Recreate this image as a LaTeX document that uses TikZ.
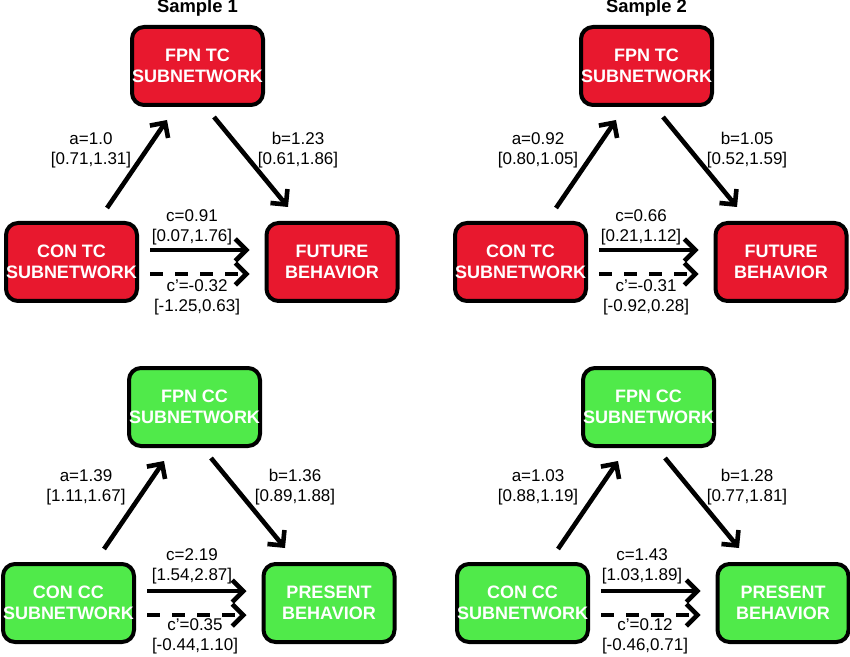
\documentclass[tikz,border=0pt]{standalone}
\usepackage{fontspec}
\setmainfont{Liberation Sans}
\usetikzlibrary{arrows.meta}
\definecolor{tcred}{RGB}{232,24,46}
\definecolor{ccgreen}{RGB}{80,234,74}

\tikzset{
	subnet/.style={draw=black, line width=2pt, rounded corners=6pt, text=white, inner sep=0pt,
		minimum width=65.5pt, minimum height=39pt, align=center, font=\fontsize{9}{10.5}\selectfont\bfseries},
	coef/.style={align=center, inner sep=0pt, font=\fontsize{8.5}{10}\selectfont},
	link/.style={-{Straight Barb[length=5.5pt,width=11pt]}, line width=2.3pt},
	dlink/.style={link, dash pattern=on 6.5pt off 6pt}
}

\begin{document}
\begin{tikzpicture}[x=0.5pt, y=-0.5pt]
\useasboundingbox (0,0) rectangle (850,657);

% Sample 1, TC
\node (S1) [font=\fontsize{9.2}{10}\selectfont\bfseries] at (197.5,8) {Sample 1};
\node (FPN1) [subnet, fill=tcred] at (197.5,66) {FPN TC\\SUBNETWORK};
\node (CON1) [subnet, fill=tcred] at (71.5,262) {CON TC\\SUBNETWORK};
\node (BEH1) [subnet, fill=tcred] at (332,262) {FUTURE\\BEHAVIOR};
\node (a1) [coef] at (91,150) {a=1.0\\{}[0.71,1.31]};
\node (b1) [coef] at (298,150) {b=1.23\\{}[0.61,1.86]};
\node (c1) [coef] at (192,227) {c=0.91\\{}[0.07,1.76]};
\node (d1) [coef] at (197,297) {c'=-0.32\\{}[-1.25,0.63]};
\draw [link] ([xshift=17.75pt,yshift=6.5pt]CON1.north) -- ([xshift=-15.25pt,yshift=-6.5pt]FPN1.south);
\draw [link] ([xshift=8.25pt,yshift=-5pt]FPN1.south) -- ([xshift=-22pt,yshift=7pt]BEH1.north);
\draw [link] ([xshift=5.5pt,yshift=6pt]CON1.east) -- ([xshift=-7.5pt,yshift=6pt]BEH1.west);
\draw [dlink] ([xshift=5.5pt,yshift=-6pt]CON1.east) -- ([xshift=-7.5pt,yshift=-6pt]BEH1.west);

% Sample 2, TC
\begin{scope}[shift={(449,0)}]
\node (S2) [font=\fontsize{9.2}{10}\selectfont\bfseries] at (197.5,8) {Sample 2};
\node (FPN2) [subnet, fill=tcred] at (197.5,66) {FPN TC\\SUBNETWORK};
\node (CON2) [subnet, fill=tcred] at (71.5,262) {CON TC\\SUBNETWORK};
\node (BEH2) [subnet, fill=tcred] at (332,262) {FUTURE\\BEHAVIOR};
\node (a2) [coef] at (89,150) {a=0.92\\{}[0.80,1.05]};
\node (b2) [coef] at (298,150) {b=1.05\\{}[0.52,1.59]};
\node (c2) [coef] at (192,227) {c=0.66\\{}[0.21,1.12]};
\node (d2) [coef] at (197,297) {c'=-0.31\\{}[-0.92,0.28]};
\draw [link] ([xshift=17.75pt,yshift=6.5pt]CON2.north) -- ([xshift=-15.25pt,yshift=-6.5pt]FPN2.south);
\draw [link] ([xshift=8.25pt,yshift=-5pt]FPN2.south) -- ([xshift=-22pt,yshift=7pt]BEH2.north);
\draw [link] ([xshift=5.5pt,yshift=6pt]CON2.east) -- ([xshift=-7.5pt,yshift=6pt]BEH2.west);
\draw [dlink] ([xshift=5.5pt,yshift=-6pt]CON2.east) -- ([xshift=-7.5pt,yshift=-6pt]BEH2.west);
\end{scope}

% Sample 1, CC
\begin{scope}[shift={(-3,341)}]
\node (FPN3) [subnet, fill=ccgreen] at (197.5,66) {FPN CC\\SUBNETWORK};
\node (CON3) [subnet, fill=ccgreen] at (71.5,262) {CON CC\\SUBNETWORK};
\node (BEH3) [subnet, fill=ccgreen] at (332,262) {PRESENT\\BEHAVIOR};
\node (a3) [coef] at (89,146) {a=1.39\\{}[1.11,1.67]};
\node (b3) [coef] at (298,146) {b=1.36\\{}[0.89,1.88]};
\node (c3) [coef] at (195,225) {c=2.19\\{}[1.54,2.87]};
\node (d3) [coef] at (198,295) {c'=0.35\\{}[-0.44,1.10]};
\draw [link] ([xshift=17.75pt,yshift=6.5pt]CON3.north) -- ([xshift=-15.25pt,yshift=-6.5pt]FPN3.south);
\draw [link] ([xshift=8.25pt,yshift=-5pt]FPN3.south) -- ([xshift=-22pt,yshift=7pt]BEH3.north);
\draw [link] ([xshift=5.5pt,yshift=6pt]CON3.east) -- ([xshift=-7.5pt,yshift=6pt]BEH3.west);
\draw [dlink] ([xshift=5.5pt,yshift=-6pt]CON3.east) -- ([xshift=-7.5pt,yshift=-6pt]BEH3.west);
\end{scope}

% Sample 2, CC
\begin{scope}[shift={(451,341)}]
\node (FPN4) [subnet, fill=ccgreen] at (197.5,66) {FPN CC\\SUBNETWORK};
\node (CON4) [subnet, fill=ccgreen] at (71.5,262) {CON CC\\SUBNETWORK};
\node (BEH4) [subnet, fill=ccgreen] at (332,262) {PRESENT\\BEHAVIOR};
\node (a4) [coef] at (87,146) {a=1.03\\{}[0.88,1.19]};
\node (b4) [coef] at (296,146) {b=1.28\\{}[0.77,1.81]};
\node (c4) [coef] at (191,225) {c=1.43\\{}[1.03,1.89]};
\node (d4) [coef] at (194,295) {c'=0.12\\{}[-0.46,0.71]};
\draw [link] ([xshift=17.75pt,yshift=6.5pt]CON4.north) -- ([xshift=-15.25pt,yshift=-6.5pt]FPN4.south);
\draw [link] ([xshift=8.25pt,yshift=-5pt]FPN4.south) -- ([xshift=-22pt,yshift=7pt]BEH4.north);
\draw [link] ([xshift=5.5pt,yshift=6pt]CON4.east) -- ([xshift=-7.5pt,yshift=6pt]BEH4.west);
\draw [dlink] ([xshift=5.5pt,yshift=-6pt]CON4.east) -- ([xshift=-7.5pt,yshift=-6pt]BEH4.west);
\end{scope}

\end{tikzpicture}
\end{document}
